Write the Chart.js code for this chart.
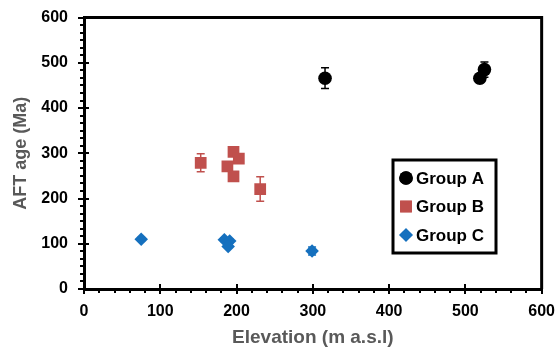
<!DOCTYPE html>
<html>
<head>
<meta charset="utf-8">
<script src="https://cdn.jsdelivr.net/npm/chart.js@4.4.0/dist/chart.umd.min.js"></script>
<style>
  html, body { margin: 0; padding: 0; background: #fff; }
</style>
</head>
<body>
<canvas id="aftChart" width="560" height="349"></canvas>
<script>
// AFT ages against sample elevation, three groups
const groupNames = ["Group A", "Group B", "Group C"]

const aElev = [316, 519, 525]
const aAge  = [466, 466, 485]
const aErr  = [23, 10, 17]

const bElev = [153, 196, 203, 188, 196, 231]
const bAge  = [279, 303, 288, 271, 249, 221]
const bErr  = [20, 6, 6, 6, 6, 27]

const cElev = [75, 184, 191, 189, 299]
const cAge  = [110, 109, 106, 94, 84]
const cErr  = [4, 4, 4, 4, 9]

const xTicks = [0, 100, 200, 300, 400, 500, 600]
const yTicks = [0, 100, 200, 300, 400, 500, 600]

const FONT = "'Liberation Sans', Arial, sans-serif"

function points(xs, ys, errs){
    return xs.map((v, i) => ({ x: v, y: ys[i], err: errs[i] }))
}

// vertical error bars drawn under the markers
const errorBars = {
    id: "errorBars",
    beforeDatasetsDraw(chart){
        const { ctx, scales: { x, y } } = chart
        ctx.save()
        chart.data.datasets.forEach(ds => {
            ctx.strokeStyle = ds.borderColor
            ctx.lineWidth = 1.5
            ds.data.forEach(p => {
                const px = x.getPixelForValue(p.x)
                const top = y.getPixelForValue(p.y + p.err)
                const bot = y.getPixelForValue(p.y - p.err)
                ctx.beginPath()
                ctx.moveTo(px, top); ctx.lineTo(px, bot)
                ctx.moveTo(px - 4, top); ctx.lineTo(px + 4, top)
                ctx.moveTo(px - 4, bot); ctx.lineTo(px + 4, bot)
                ctx.stroke()
            })
        })
        ctx.restore()
    }
}

// box frame, minor ticks and crossing major ticks
const frame = {
    id: "frame",
    afterDraw(chart){
        const { ctx, chartArea: a, scales: { x, y } } = chart
        ctx.save()
        ctx.strokeStyle = "#000"
        ctx.lineWidth = 3
        ctx.beginPath()
        ctx.moveTo(a.left, a.top); ctx.lineTo(a.right, a.top); ctx.lineTo(a.right, a.bottom)
        ctx.stroke()

        ctx.lineWidth = 2
        ctx.beginPath()
        for (let i = 0; i <= 30; i++){
            const px = Math.round(x.getPixelForValue(i * 20))
            ctx.moveTo(px, a.bottom); ctx.lineTo(px, a.bottom + 4)
        }
        for (let i = 0; i <= 36; i++){
            const py = Math.round(y.getPixelForValue(i * 100 / 6))
            ctx.moveTo(a.left, py); ctx.lineTo(a.left - 4, py)
        }
        xTicks.forEach(v => {
            const px = Math.round(x.getPixelForValue(v))
            ctx.moveTo(px, a.bottom - 5); ctx.lineTo(px, a.bottom + 5)
        })
        yTicks.forEach(v => {
            const py = Math.round(y.getPixelForValue(v))
            ctx.moveTo(a.left - 6, py); ctx.lineTo(a.left + 5, py)
        })
        ctx.stroke()

        // legend box
        const lx = 393, ly = 160, lw = 103, lh = 93
        ctx.lineWidth = 3
        ctx.strokeRect(lx, ly, lw, lh)
        ctx.font = "bold 17px " + FONT
        ctx.textBaseline = "middle"
        ctx.fillStyle = "#000"
        chart.data.datasets.forEach((ds, i) => {
            const cy = ly + 18 + i * 28.5
            ctx.fillStyle = ds.backgroundColor
            Chart.helpers.drawPoint(ctx, { pointStyle: ds.pointStyle, radius: ds.pointRadius, borderWidth: 0 }, lx + 13, cy)
            ctx.fill()
            ctx.fillStyle = "#000"
            ctx.fillText(ds.label, lx + 23, cy + 1)
        })
        ctx.restore()
    }
}

const ctx = document.getElementById("aftChart")
new Chart(ctx, {
    type: "scatter",
    data: {
        datasets: [
            { label: groupNames[0], data: points(aElev, aAge, aErr), pointStyle: "circle", pointRadius: 6.8,
              backgroundColor: "#000000", borderColor: "#000000", borderWidth: 0 },
            { label: groupNames[1], data: points(bElev, bAge, bErr), pointStyle: "rect", pointRadius: 8.3,
              backgroundColor: "#C0504D", borderColor: "#C0504D", borderWidth: 0 },
            { label: groupNames[2], data: points(cElev, cAge, cErr), pointStyle: "rectRot", pointRadius: 6.8,
              backgroundColor: "#1570BE", borderColor: "#1570BE", borderWidth: 0 },
        ]
    },
    options: {
        responsive: false,
        animation: false,
        layout: { padding: { top: 9, right: 6, left: 0, bottom: 0 } },
        plugins: { legend: { display: false }, tooltip: { enabled: false } },
        scales: {
            x: {
                min: 0, max: 600,
                afterBuildTicks: s => { s.ticks = xTicks.map(v => ({ value: v })) },
                afterFit: s => { s.height = 60 },
                grid: { display: false },
                border: { display: true, color: "#000", width: 3 },
                ticks: { color: "#000", padding: 5, font: { family: FONT, size: 16, weight: "bold" } },
                title: { display: true, text: "Elevation (m a.s.l)", color: "#595959", padding: { top: 0, bottom: 0 },
                         font: { family: FONT, size: 19, weight: "bold" } }
            },
            y: {
                min: 0, max: 600,
                afterBuildTicks: s => { s.ticks = yTicks.map(v => ({ value: v })) },
                afterFit: s => { s.width = 84 },
                grid: { display: false },
                border: { display: true, color: "#000", width: 3 },
                ticks: { color: "#000", padding: 8, font: { family: FONT, size: 16, weight: "bold" } },
                title: { display: true, text: "AFT age (Ma)", color: "#595959", padding: { top: 10, bottom: 0 },
                         font: { family: FONT, size: 18, weight: "bold" } }
            }
        }
    },
    plugins: [errorBars, frame]
})
</script>
</body>
</html>
